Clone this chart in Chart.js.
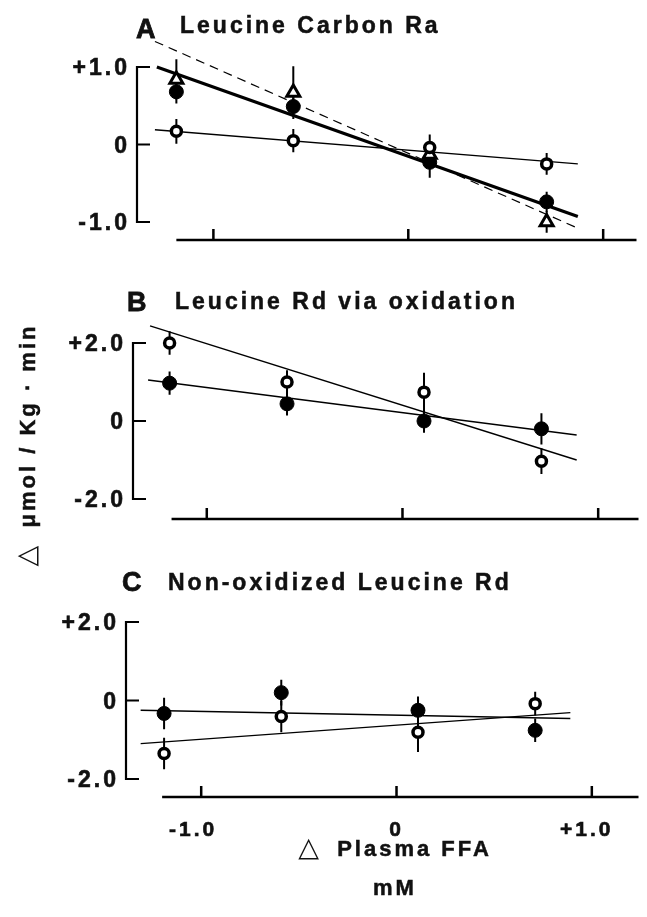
<!DOCTYPE html>
<html><head><meta charset="utf-8">
<script src="https://cdn.jsdelivr.net/npm/chart.js@4/dist/chart.umd.min.js"></script>
<style>
html,body{margin:0;padding:0;background:#fff;}
#wrap{position:relative;width:647px;height:917px;overflow:hidden;background:#fff;}
canvas{position:absolute;left:0;top:0;}
.t{position:absolute;font-family:'Liberation Sans',Arial,sans-serif;font-weight:bold;color:#111;white-space:pre;line-height:1;letter-spacing:3px;-webkit-text-stroke:0.5px #111;}
.tri{font-family:'DejaVu Sans',sans-serif;font-weight:normal;font-size:27px;-webkit-text-stroke:0;letter-spacing:0;}
</style></head><body>
<div id="wrap">
<canvas id="cA" width="647" height="917"></canvas>
<canvas id="cB" width="647" height="917"></canvas>
<canvas id="cC" width="647" height="917"></canvas>
<div class="t" style="left:136px;top:16px;font-size:27px;letter-spacing:0;-webkit-text-stroke:0.8px #111">A</div>
<div class="t" style="left:180px;top:14px;font-size:23px;">Leucine Carbon Ra</div>
<div class="t" style="left:127px;top:289px;font-size:27px;letter-spacing:0;-webkit-text-stroke:0.8px #111">B</div>
<div class="t" style="left:175px;top:290px;font-size:23px;">Leucine Rd via oxidation</div>
<div class="t" style="left:122px;top:569px;font-size:27px;letter-spacing:0;-webkit-text-stroke:0.8px #111">C</div>
<div class="t" style="left:168px;top:571px;font-size:23px;">Non-oxidized Leucine Rd</div>
<div class="t" style="left:-125px;top:432px;width:300px;height:26px;text-align:center;font-size:22px;transform:rotate(-90deg);transform-origin:150px 13px;"><span class="tri">△</span>  μmol / Kg · min</div>
<div class="t" style="left:245px;top:833px;width:300px;text-align:center;font-size:22px;"><span class="tri">△</span>  Plasma FFA</div>
<div class="t" style="left:245px;top:877px;width:300px;text-align:center;font-size:22px;">mM</div>
</div>
<script>
// ---- shared x positions (Δ plasma FFA, mM) ----
const xVals = [-1.19, -0.59, 0.11, 0.71];
const xTickVals = [-1, 0, 1];
const xTickLabels = ['-1.0', '0', '+1.0'];

// ---- Panel A: Leucine Carbon Ra ----
const aYTicks = [1, 0, -1];
const aYTickLabels = ['+1.0', '0', '-1.0'];
const aFilled = [0.68, 0.49, -0.23, -0.74];
const aFilledErr = [0.15, 0.12, 0.2, 0.13];
const aOpen = [0.17, 0.05, -0.04, -0.25];
const aOpenErr = [0.16, 0.15, 0.17, 0.14];
const aTri = [0.84, 0.67, -0.13, -1.0];
const aTriErr = [0.26, 0.34, 0.15, 0.14];
const aFitFilledX = [-1.29, 0.87], aFitFilledY = [1.0, -0.93];
const aFitTriX = [-1.30, 0.87], aFitTriY = [1.33, -1.08];
const aFitOpenX = [-1.30, 0.87], aFitOpenY = [0.19, -0.25];

// ---- Panel B: Leucine Rd via oxidation ----
const bYTicks = [2, 0, -2];
const bYTickLabels = ['+2.0', '0', '-2.0'];
const bFilled = [0.97, 0.44, 0.0, -0.2];
const bFilledErr = [0.3, 0.3, 0.3, 0.4];
const bOpen = [2.0, 1.0, 0.74, -1.03];
const bOpenErr = [0.3, 0.3, 0.5, 0.33];
const bFitFilledX = [-1.30, 0.89], bFitFilledY = [1.05, -0.36];
const bFitOpenX = [-1.29, 0.89], bFitOpenY = [2.44, -1.0];

// ---- Panel C: Non-oxidized Leucine Rd ----
const cYTicks = [2, 0, -2];
const cYTickLabels = ['+2.0', '0', '-2.0'];
const cFilled = [-0.33, 0.2, -0.25, -0.76];
const cFilledErr = [0.4, 0.33, 0.35, 0.3];
const cOpen = [-1.35, -0.41, -0.81, -0.08];
const cOpenErr = [0.4, 0.4, 0.5, 0.3];
const cFitFilledX = [-1.31, 0.89], cFitFilledY = [-0.25, -0.46];
const cFitOpenX = [-1.31, 0.89], cFitOpenY = [-1.1, -0.31];

const FONT = "'Liberation Sans', Arial, sans-serif";
const pts = (xs, ys) => xs.map((x, i) => ({x, y: ys[i]}));

const pointDS = (ys, errs, kind) => ({
  type: 'scatter',
  data: pts(xVals, ys),
  errs,
  pointStyle: kind === 'tri' ? 'triangle' : 'circle',
  pointRadius: kind === 'tri' ? 7.5 : (kind === 'open' ? 5 : 7),
  pointBorderWidth: kind === 'filled' ? 1 : (kind === 'open' ? 3.5 : 3),
  backgroundColor: kind === 'filled' ? '#000' : '#fff',
  borderColor: '#000',
  clip: false
});
const lineDS = (xs, ys, w, dash) => ({
  type: 'line',
  data: pts(xs, ys),
  borderColor: '#000',
  borderWidth: w,
  borderDash: dash || [],
  pointRadius: 0,
  fill: false,
  clip: false
});

const axesPlugin = {
  id: 'bracketAxes',
  beforeDatasetsDraw(chart, args, o) {
    const ctx = chart.ctx, xs = chart.scales.x, ys = chart.scales.y;
    const L = chart.chartArea.left;
    ctx.save();
    ctx.strokeStyle = '#000';
    ctx.fillStyle = '#111';
    ctx.lineCap = 'butt';
    // y bracket axis
    ctx.lineWidth = 2.2;
    ctx.beginPath();
    const yTop = ys.getPixelForValue(o.yTicks[0]);
    const yBot = ys.getPixelForValue(o.yTicks[o.yTicks.length - 1]);
    ctx.moveTo(L + 12, yTop); ctx.lineTo(L, yTop); ctx.lineTo(L, yBot); ctx.lineTo(L + 12, yBot);
    o.yTicks.forEach(v => { const p = ys.getPixelForValue(v); ctx.moveTo(L, p); ctx.lineTo(L + 13, p); });
    ctx.stroke();
    ctx.font = 'bold 23px ' + FONT;
    if ('letterSpacing' in ctx) ctx.letterSpacing = '3px';
    ctx.textAlign = 'right';
    ctx.textBaseline = 'middle';
    ctx.lineWidth = 0.6;
    ctx.strokeStyle = '#111';
    o.yTicks.forEach((v, i) => {
      const py = ys.getPixelForValue(v) + 2;
      ctx.fillText(o.yTickLabels[i], L - 7, py);
      ctx.strokeText(o.yTickLabels[i], L - 7, py);
    });
    // x axis line below
    ctx.strokeStyle = '#000';
    const ay = yBot + o.xAxisGap;
    ctx.lineWidth = 2.5;
    ctx.beginPath();
    ctx.moveTo(xs.getPixelForValue(o.xFrom), ay);
    ctx.lineTo(chart.chartArea.right, ay);
    xTickVals.forEach(v => { const p = xs.getPixelForValue(v); ctx.moveTo(p, ay); ctx.lineTo(p, ay - 11); });
    ctx.stroke();
    if (o.xLabels) {
      ctx.font = 'bold 21px ' + FONT;
      ctx.textAlign = 'center';
      ctx.lineWidth = 0.6;
      ctx.strokeStyle = '#111';
      xTickVals.forEach((v, i) => {
        const off = v < 0 ? -8 : (v > 0 ? -5 : 0);
        const px = xs.getPixelForValue(v) + off;
        ctx.fillText(xTickLabels[i], px, ay + 33);
        ctx.strokeText(xTickLabels[i], px, ay + 33);
      });
    }
    // error bars
    ctx.strokeStyle = '#000';
    ctx.lineWidth = 2;
    chart.data.datasets.forEach(ds => {
      if (!ds.errs) return;
      ctx.beginPath();
      ds.data.forEach((p, i) => {
        const px = xs.getPixelForValue(p.x);
        ctx.moveTo(px, ys.getPixelForValue(p.y + ds.errs[i]));
        ctx.lineTo(px, ys.getPixelForValue(p.y - ds.errs[i]));
      });
      ctx.stroke();
    });
    ctx.restore();
  }
};

function makeChart(id, datasets, pad, xr, yr, axOpts) {
  return new Chart(document.getElementById(id), {
    type: 'scatter',
    data: { datasets },
    options: {
      responsive: false,
      animation: false,
      events: [],
      layout: { padding: pad },
      scales: {
        x: { type: 'linear', display: false, min: xr[0], max: xr[1] },
        y: { type: 'linear', display: false, min: yr[0], max: yr[1] }
      },
      plugins: { legend: { display: false }, tooltip: { enabled: false }, bracketAxes: axOpts }
    },
    plugins: [axesPlugin]
  });
}

makeChart('cA', [
  pointDS(aOpen, aOpenErr, 'open'),
  pointDS(aTri, aTriErr, 'tri'),
  pointDS(aFilled, aFilledErr, 'filled'),
  lineDS(aFitFilledX, aFitFilledY, 3.2),
  lineDS(aFitTriX, aFitTriY, 1.2, [9, 6]),
  lineDS(aFitOpenX, aFitOpenY, 1.4)
], {left: 137, right: 0, top: 67, bottom: 917 - 222}, [-1.392, 1.171], [-1, 1],
  {yTicks: aYTicks, yTickLabels: aYTickLabels, xAxisGap: 18, xFrom: -1.19, xLabels: false});

makeChart('cB', [
  pointDS(bOpen, bOpenErr, 'open'),
  pointDS(bFilled, bFilledErr, 'filled'),
  lineDS(bFitFilledX, bFitFilledY, 1.4),
  lineDS(bFitOpenX, bFitOpenY, 1.4)
], {left: 133, right: 0, top: 343, bottom: 917 - 499}, [-1.377, 1.206], [-2, 2],
  {yTicks: bYTicks, yTickLabels: bYTickLabels, xAxisGap: 20, xFrom: -1.18, xLabels: false});

makeChart('cC', [
  pointDS(cOpen, cOpenErr, 'open'),
  pointDS(cFilled, cFilledErr, 'filled'),
  lineDS(cFitFilledX, cFitFilledY, 1.4),
  lineDS(cFitOpenX, cFitOpenY, 1.4)
], {left: 126, right: 0, top: 622, bottom: 917 - 779}, [-1.385, 1.239], [-2, 2],
  {yTicks: cYTicks, yTickLabels: cYTickLabels, xAxisGap: 18, xFrom: -1.2, xLabels: true});
</script>
</body></html>
